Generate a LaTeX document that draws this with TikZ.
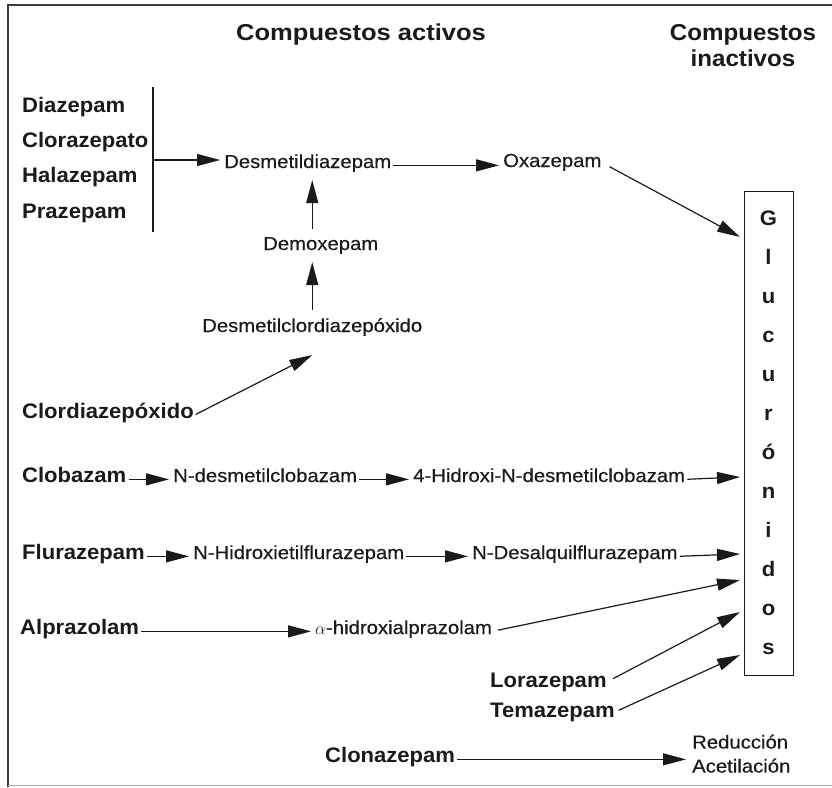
\documentclass[tikz,border=0pt]{standalone}
\usepackage{fontspec}
\setmainfont{Liberation Sans}
\newfontfamily\nfnt{Liberation Sans}[FakeStretch=1.08,FakeBold=0.35]
\newfontfamily\bfnt{Liberation Sans}[FakeStretch=1.05]
\newfontfamily\hfnt{Liberation Sans}[FakeStretch=1.11]
\usetikzlibrary{arrows.meta}
\definecolor{ink}{HTML}{1A1A1A}
\tikzset{
  lbl/.style={inner sep=0pt, anchor=base west, text=ink, font=\bfnt\bfseries\fontsize{21}{24}\selectfont},
  met/.style={inner sep=0pt, anchor=base west, text=ink, font=\nfnt\fontsize{18.8}{24}\selectfont},
  hdr/.style={inner sep=0pt, text=ink, font=\hfnt\bfseries\fontsize{23}{26}\selectfont},
  arr/.style={draw=ink, line width=1.2pt, -{Triangle[length=23pt,width=12pt]}, shorten <=2pt, shorten >=4pt},
  vtarr/.style={arr, shorten <=8pt, shorten >=8pt},
  frame/.style={draw=ink!85, line width=1.8pt}
}
\begin{document}
\begin{tikzpicture}[x=1pt,y=-1pt]
\useasboundingbox (0,0) rectangle (832,787);
% frame
\coordinate (ftr) at (832,5);
\coordinate (ftl) at (8,5);
\coordinate (fbl) at (8,787);
\coordinate (bbl) at (8,785);
\coordinate (bbr) at (832,785);
\draw[frame] (ftr) -- (ftl) -- (fbl);
\draw[draw=black!35, line width=0.8pt] (bbl) -- (bbr);

% headers
\node[hdr, anchor=base west] (hact) at (236,40) {Compuestos activos};
\node[hdr, anchor=north, align=center, font=\bfnt\bfseries\fontsize{23}{26}\selectfont] (hinact) at (743,24.5) {Compuestos\\inactivos};

% left group
\node[lbl] (diaz) at (22,112) {Diazepam};
\node[lbl] (cloraz) at (22,147) {Clorazepato};
\node[lbl] (halaz) at (22,182) {Halazepam};
\node[lbl] (praz) at (22,218) {Prazepam};
\coordinate (bart) at (153,87);
\coordinate (barb) at (153,232);
\coordinate (barm) at (153,160);
\draw[draw=ink, line width=1.1pt] (bart) -- (barb);

% metabolites
\node[met] (desm) at (224,168) {Desmetildiazepam};
\node[met] (oxa) at (503,167) {Oxazepam};
\node[met] (demox) at (263,250) {Demoxepam};
\node[met] (dcdp) at (202,332) {Desmetilclordiazepóxido};
\node[lbl] (clordia) at (22,418) {Clordiazepóxido};

\node[lbl] (clob) at (22,482) {Clobazam};
\node[met] (ndc) at (173,482) {N-desmetilclobazam};
\node[met] (hndc) at (413,482) {4-Hidroxi-N-desmetilclobazam};

\node[lbl] (flu) at (22,559) {Flurazepam};
\node[met] (nhf) at (193,559) {N-Hidroxietilflurazepam};
\node[met] (ndf) at (472,559) {N-Desalquilflurazepam};

\node[lbl] (alp) at (20,634) {Alprazolam};
\node[met] (ahx) at (315,634) {$\alpha$-hidroxialprazolam};

\node[lbl] (lor) at (490,687) {Lorazepam};
\node[lbl] (tem) at (490,717) {Temazepam};

\node[lbl] (clon) at (325,762) {Clonazepam};
\node[met, anchor=north west, align=left] (red) at (692,734.5) {Reducción\\Acetilación};

% glucuronidos box
\node[draw=ink, line width=1pt, minimum width=49pt, minimum height=484pt, inner sep=0pt, align=center, text=ink,
      font=\bfnt\bfseries\fontsize{21}{39}\selectfont] (glu) at (768.5,433)
      {G\\l\\u\\c\\u\\r\\ó\\n\\i\\d\\o\\s};
\coordinate (gox) at (740,237);
\coordinate (gcl) at (740,477);
\coordinate (gfl) at (740,554);
\coordinate (gal) at (740,580);
\coordinate (glo) at (740,612);
\coordinate (gte) at (740,655);

% connectors
\draw[arr, shorten <=0pt, shorten >=4pt] (barm) -- (barm -| desm.west);
\draw[arr] (desm.mid east) -- (desm.mid east -| oxa.west);
\draw[arr, shorten <=9pt, shorten >=0pt] (oxa.east) -- (gox);
\draw[vtarr] (demox.north -| dcdp.north) -- (desm.south -| dcdp.north);
\draw[vtarr] (dcdp.north) -- (demox.south -| dcdp.north);
\draw[arr, shorten >=0pt] (clordia.mid east) -- ([yshift=-19pt]dcdp.south);

\draw[arr] (clob.mid east) -- (clob.mid east -| ndc.west);
\draw[arr] (ndc.mid east) -- (ndc.mid east -| hndc.west);
\draw[arr, shorten >=0pt] (hndc.mid east) -- (gcl);

\draw[arr] (flu.mid east) -- (flu.mid east -| nhf.west);
\draw[arr] (nhf.mid east) -- (nhf.mid east -| ndf.west);
\draw[arr, shorten >=0pt] (ndf.mid east) -- (gfl);

\draw[arr] (alp.mid east) -- (alp.mid east -| ahx.west);
\draw[arr, shorten <=6pt, shorten >=0pt] (ahx.mid east) -- (gal);
\draw[arr, shorten <=7pt, shorten >=0pt] (lor.east) -- (glo);
\draw[arr, shorten <=4pt, shorten >=0pt] (tem.east) -- (gte);

\draw[arr, shorten >=6pt] (clon.mid east) -- (clon.mid east -| red.west);
\end{tikzpicture}
\end{document}
